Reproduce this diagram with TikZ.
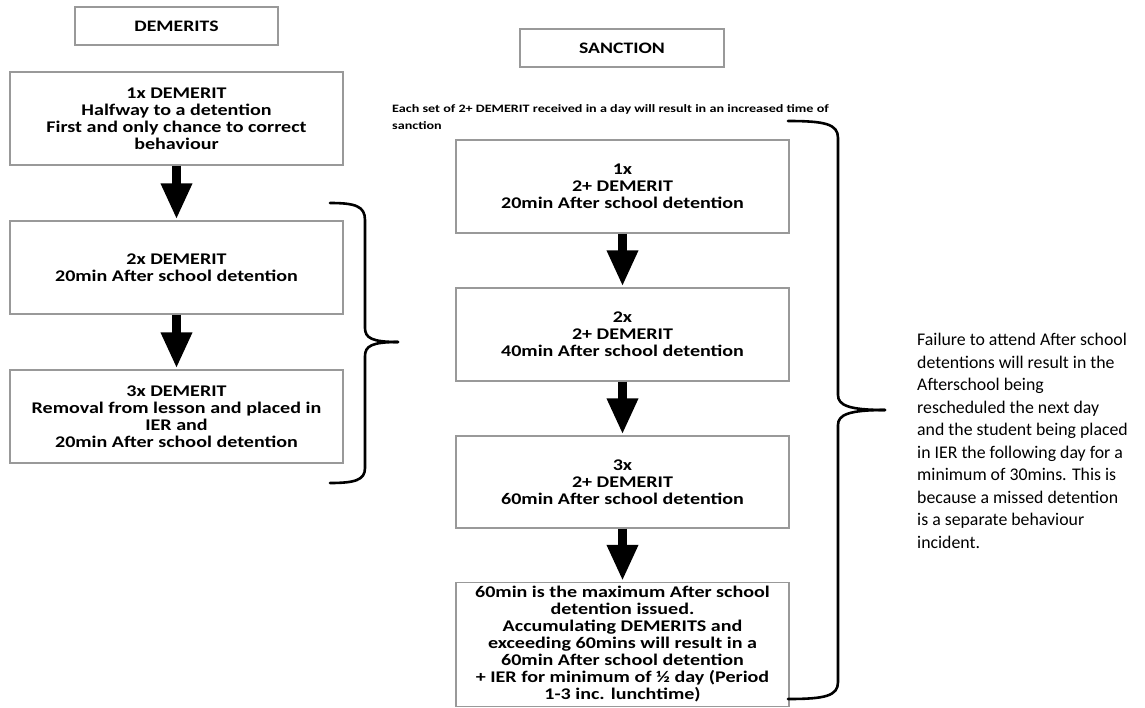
\documentclass[tikz,border=0pt]{standalone}
\usepackage{fontspec}
\setmainfont{Carlito}
\newfontfamily\bx{Carlito}[FakeStretch=1.23]
\newfontfamily\nx{Carlito}[FakeStretch=1.25]
\usetikzlibrary{arrows.meta}
\begin{document}
\begin{tikzpicture}[x=1pt,y=-1pt,
  box/.style={draw=black!40, line width=1.1pt, minimum width=333pt, inner sep=0pt, align=center,
     font=\bx\bfseries\fontsize{16.3}{17}\selectfont},
  titlebox/.style={draw=black!40, line width=1.1pt, minimum width=203pt, minimum height=38pt, inner sep=0pt,
     font=\bx\bfseries\fontsize{16}{17}\selectfont},
  bigarrow/.style={line width=9pt, -{Triangle[width=29pt,length=36pt]}, shorten >=1pt},
  brace/.style={line width=2.6pt, line cap=round, line join=round}]
\useasboundingbox (0,0) rectangle (1145,707);
\fill[white] (0,0) rectangle (1145,707);

% left column
\node[titlebox] (dem) at (176.5,26) {DEMERITS};
\node[box, minimum height=93pt] (b1) at (176.5,118.5) {1x DEMERIT\\Halfway to a detention\\First and only chance to correct\\behaviour};
\node[box, minimum height=93pt] (b2) at (176.5,267.5) {2x DEMERIT\\20min After school detention};
\node[box, minimum height=93pt] (b3) at (176.5,416.5) {3x DEMERIT\\Removal from lesson and placed in\\IER and\\20min After school detention};
\draw[bigarrow] (b1.south) -- (b2.north);
\draw[bigarrow] (b2.south) -- (b3.north);

% brace 1
\draw[brace] (330,203) .. controls (355,203) and (365,206) .. (365,220) -- (365,328)
   .. controls (365,338) and (372,342) .. (398,342);
\draw[brace] (398,342) .. controls (372,342) and (365,346) .. (365,356) -- (365,468)
   .. controls (365,480) and (355,483) .. (330,483);

% middle column
\node[titlebox, minimum width=204pt] (san) at (622,48) {SANCTION};
\node[anchor=north west, inner sep=0pt, align=left, font=\nx\bfseries\fontsize{11.3}{17}\selectfont] (note) at (392,104)
  {Each set of 2+ DEMERIT received in a day will result in an increased time of\\sanction};
\node[box, minimum height=93pt] (s1) at (622.5,186.5) {1x\\2+ DEMERIT\\20min After school detention};
\node[box, minimum height=93pt] (s2) at (622.5,334.5) {2x\\2+ DEMERIT\\40min After school detention};
\node[box, minimum height=92pt] (s3) at (622.5,482) {3x\\2+ DEMERIT\\60min After school detention};
\node[box, minimum height=124pt] (s4) at (622.5,644.5) {60min is the maximum After school\\detention issued.\\Accumulating DEMERITS and\\exceeding 60mins will result in a\\60min After school detention\\+ IER for minimum of ½ day (Period\\1-3 inc. lunchtime)};
\draw[bigarrow] (s1.south) -- (s2.north);
\draw[bigarrow] (s2.south) -- (s3.north);
\draw[bigarrow] (s3.south) -- (s4.north);

% brace 2
\draw[brace] (788,121) .. controls (825,121) and (838,124) .. (838,138) -- (838,395)
   .. controls (838,405) and (848,410) .. (885,410);
\draw[brace] (885,410) .. controls (848,410) and (838,415) .. (838,425) -- (838,682)
   .. controls (838,696) and (825,699) .. (788,699);

% right text
\node[anchor=north west, inner sep=0pt, align=left, font=\fontsize{17.8}{22.5}\selectfont] (fail) at (917,333)
  {Failure to attend After school\\detentions will result in the\\Afterschool being\\rescheduled the next day\\and the student being placed\\in IER the following day for a\\minimum of 30mins. This is\\because a missed detention\\is a separate behaviour\\incident.};
\end{tikzpicture}
\end{document}
